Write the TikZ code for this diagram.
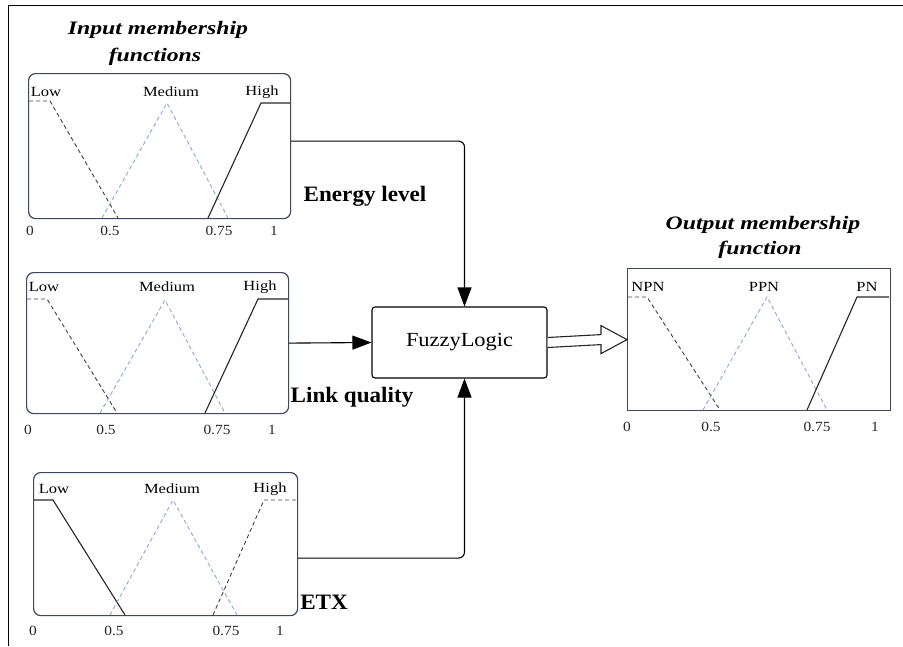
\documentclass[tikz,border=0pt]{standalone}
\usepackage{fontspec}
\setmainfont{Liberation Serif}
\usetikzlibrary{arrows.meta,calc}
\definecolor{boxcol}{HTML}{3E4660}
\definecolor{medcol}{HTML}{8DA6D8}
\definecolor{blkcol}{HTML}{404040}
\begin{document}
\begin{tikzpicture}[x=1pt,y=-1pt,
  inbox/.style={draw=boxcol, line width=1.2pt, rounded corners=7pt, anchor=north west, inner sep=0pt},
  outbox/.style={draw=boxcol, line width=1.2pt, anchor=north west, inner sep=0pt},
  fbox/.style={draw=black, line width=1.1pt, rounded corners=3pt, inner sep=0pt, minimum width=175pt, minimum height=71pt, font=\fontsize{20}{22}\selectfont},
  lbl/.style={font=\fontsize{14}{16}\selectfont, xscale=1.18, inner sep=0pt},
  axl/.style={font=\fontsize{14}{16}\selectfont, xscale=1.1, inner sep=0pt, text=black!85},
  ttl/.style={font=\fontsize{19}{21}\selectfont\bfseries\itshape, xscale=1.25, inner sep=0pt},
  var/.style={font=\fontsize{22}{24}\selectfont\bfseries, xscale=1.05, inner sep=0pt},
  mlow/.style={draw=blkcol, line width=0.9pt, dash pattern=on 4pt off 3pt},
  mmed/.style={draw=medcol, line width=0.9pt, dash pattern=on 4pt off 3pt},
  msolid/.style={draw=black!85, line width=1.1pt},
  conn/.style={draw=black, line width=1.1pt, rounded corners=6pt, -{Triangle[length=19pt,width=14pt]}},
  hollow/.style={draw=black!85, line width=1.1pt, fill=white, line join=miter}
]
\useasboundingbox (0,0) rectangle (903,646);
% outer frame
\draw[line width=1pt] (903,5) -- (8,5) -- (8,646);

% titles
\node[ttl] (t1a) at (158,30) {Input membership};
\node[ttl] (t1b) at (155,57) {functions};
\node[ttl] (t2a) at (763,225) {Output membership};
\node[ttl] (t2b) at (760,250) {function};

% ---------- box 1: Energy level ----------
\node[inbox, minimum width=262pt, minimum height=145pt] (b1) at (28,73) {};
\draw[mlow] (29,101) -- (50,101) -- (118,218);
\draw[mmed] (102,218) -- (167,103) -- (228,218);
\draw[msolid] (208,218) -- (261,103) -- (290,103);
\node[lbl] (b1l) at (46,92) {Low};
\node[lbl] (b1m) at (171,92) {Medium};
\node[lbl] (b1h) at (262,92) {High};
\node[axl] (b1a0) at (30,231) {0};
\node[axl] (b1a1) at (110,231) {0.5};
\node[axl] (b1a2) at (219,231) {0.75};
\node[axl] (b1a3) at (274,231) {1};
\node[var] (v1) at (365,196) {Energy level};

% ---------- box 2: Link quality ----------
\node[inbox, minimum width=262pt, minimum height=141pt] (b2) at (26,272) {};
\draw[mlow] (27,299) -- (47,299) -- (117,413);
\draw[mmed] (100,413) -- (165,300) -- (225,413);
\draw[msolid] (205,413) -- (258,299) -- (288,299);
\node[lbl] (b2l) at (44,287) {Low};
\node[lbl] (b2m) at (167,287) {Medium};
\node[lbl] (b2h) at (260,287) {High};
\node[axl] (b2a0) at (28,430) {0};
\node[axl] (b2a1) at (106,430) {0.5};
\node[axl] (b2a2) at (217,430) {0.75};
\node[axl] (b2a3) at (272,430) {1};
\node[var] (v2) at (352,397) {Link quality};

% ---------- box 3: ETX ----------
\node[inbox, minimum width=264pt, minimum height=143pt] (b3) at (33,472) {};
\draw[msolid] (34,500) -- (53,500) -- (125,615);
\draw[mmed] (110,615) -- (173,500) -- (237,615);
\draw[mlow] (213,615) -- (264,500) -- (296,500);
\node[lbl] (b3l) at (54,489) {Low};
\node[lbl] (b3m) at (172,489) {Medium};
\node[lbl] (b3h) at (270,489) {High};
\node[axl] (b3a0) at (33,631) {0};
\node[axl] (b3a1) at (114,631) {0.5};
\node[axl] (b3a2) at (226,631) {0.75};
\node[axl] (b3a3) at (280,631) {1};
\node[var] (v3) at (324,602) {ETX};

% ---------- output box ----------
\node[outbox, minimum width=263pt, minimum height=142pt] (out) at (627,268) {};
\draw[mlow] (628,297) -- (647,297) -- (720,410);
\draw[mmed] (703,410) -- (767,297) -- (827,410);
\draw[msolid] (807,410) -- (857,297) -- (889,297);
\node[lbl] (ol) at (648,287) {NPN};
\node[lbl] (om) at (764,287) {PPN};
\node[lbl] (oh) at (867,287) {PN};
\node[axl] (oa0) at (627,427) {0};
\node[axl] (oa1) at (711,427) {0.5};
\node[axl] (oa2) at (817,427) {0.75};
\node[axl] (oa3) at (875,427) {1};

% ---------- fuzzy logic ----------
\node[fbox, xscale=1] (fl) at (459.5,342.5) {\scalebox{1.12}[1]{FuzzyLogic}};

% connectors
\draw[conn] ([yshift=5pt]b1.east) -| ([xshift=5pt]fl.north);
\draw[conn] (b2.east) -- (fl.west);
\draw[conn] ([yshift=-14pt]b3.east) -| ([xshift=5pt]fl.south);

% hollow output arrow
\draw[hollow] ([yshift=5pt]fl.east) -- ([shift={(-26pt,5pt)}]out.west) -- ([shift={(-26pt,14pt)}]out.west) -- (out.west) -- ([shift={(-26pt,-14pt)}]out.west) -- ([shift={(-26pt,-5pt)}]out.west) -- ([yshift=-5pt]fl.east);
\end{tikzpicture}
\end{document}
